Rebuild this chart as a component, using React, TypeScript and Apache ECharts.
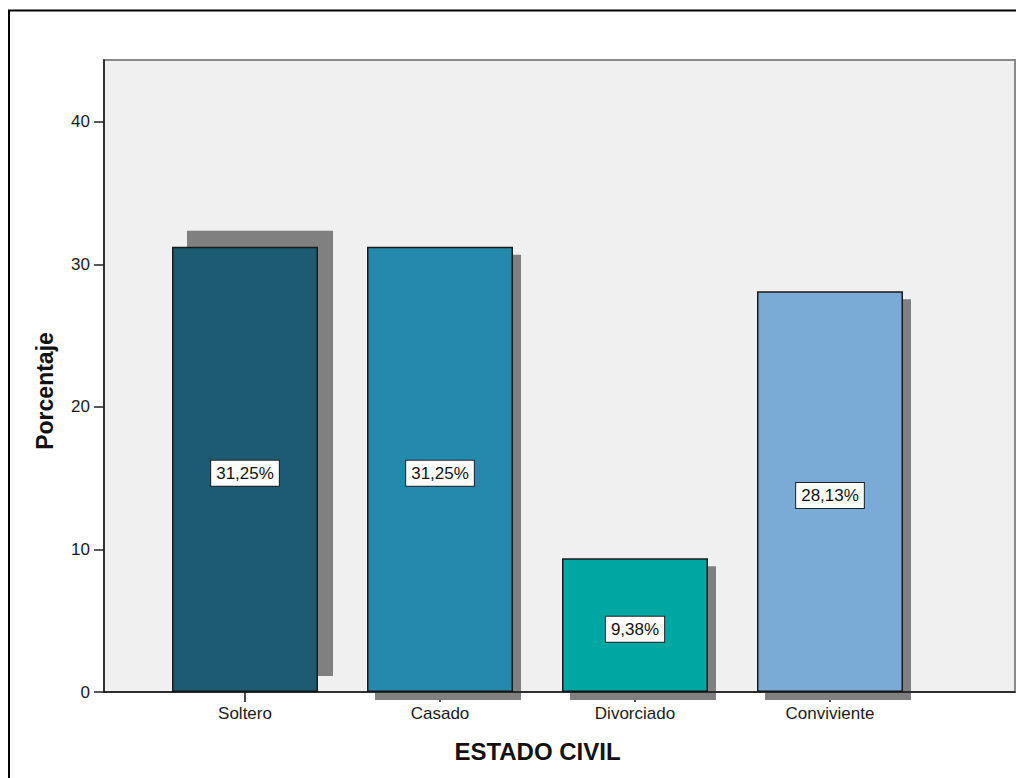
import React, { useEffect, useRef } from "react";
import * as echarts from "echarts";

// Estado civil: porcentaje por categoría
const categories = ["Soltero", "Casado", "Divorciado", "Conviviente"];
const percentages = [31.25, 31.25, 9.38, 28.13];
const yTicks = [0, 10, 20, 30, 40];

// Styling (kept apart from the data)
const barColors = ["#1d5b72", "#2489ad", "#00a6a2", "#7aaad6"];
const shadowOffsets = [
  [15, -16],
  [8, 8],
  [8, 8],
  [8, 8],
];
const BAR_WIDTH = 146;
const FONT = "'Liberation Sans', Arial, sans-serif";
const Y_MAX = 44.35;

const fmt = (v: number) => v.toFixed(2).replace(".", ",") + "%";

export default function App() {
  const ref = useRef<HTMLDivElement>(null);

  useEffect(() => {
    if (!ref.current) return;
    const chart = echarts.init(ref.current, null, { renderer: "svg" });

    chart.setOption({
      animation: false,
      backgroundColor: "#ffffff",
      textStyle: { fontFamily: FONT },
      graphic: [
        {
          type: "rect",
          shape: { x: 9, y: 10.5, width: 1100, height: 1000 },
          style: { fill: "none", stroke: "#000", lineWidth: 2 },
          z: 0,
          silent: true,
        },
        {
          // y axis title
          type: "text",
          x: 45,
          y: 391,
          rotation: Math.PI / 2,
          silent: true,
          style: {
            text: "Porcentaje",
            align: "center",
            verticalAlign: "middle",
            fontSize: 23,
            fontWeight: "bold",
            fontFamily: FONT,
            fill: "#111",
          },
        },
      ],
      grid: [
        {
          left: 104,
          top: 60,
          right: 1,
          bottom: 86,
          show: true,
          backgroundColor: "#f0f0f0",
          borderColor: "#8a8a8a",
          borderWidth: 2,
        },
        {
          left: 147.5,
          width: 780,
          top: 60,
          bottom: 86,
        },
      ],
      xAxis: [
        {
          gridIndex: 0,
          type: "value",
          min: 0,
          max: 1,
          axisLine: { show: true, lineStyle: { color: "#111", width: 1.5 } },
          axisTick: { show: false },
          axisLabel: { show: false },
          splitLine: { show: false },
          z: 5,
        },
        {
          gridIndex: 1,
          type: "category",
          data: categories,
          boundaryGap: true,
          axisLine: { show: false },
          axisTick: {
            show: true,
            alignWithLabel: true,
            length: 10,
            lineStyle: { color: "#111", width: 1.5 },
          },
          axisLabel: {
            margin: 13,
            fontSize: 17,
            color: "#1a1a1a",
            fontFamily: FONT,
          },
          name: "ESTADO CIVIL",
          nameLocation: "middle",
          nameGap: 47,
          nameTextStyle: {
            fontSize: 24,
            fontWeight: "bold",
            color: "#111",
            fontFamily: FONT,
          },
        },
      ],
      yAxis: [
        {
          gridIndex: 0,
          type: "value",
          min: 0,
          max: Y_MAX,
          axisLine: { show: true, lineStyle: { color: "#333", width: 2 } },
          axisTick: {
            show: true,
            length: 10,
            customValues: yTicks,
            lineStyle: { color: "#222", width: 1.5 },
          },
          axisLabel: {
            customValues: yTicks,
            margin: 14,
            fontSize: 17,
            color: "#1a1a1a",
            fontFamily: FONT,
          },
          splitLine: { show: false },
          z: 5,
        },
        {
          gridIndex: 1,
          type: "value",
          min: 0,
          max: Y_MAX,
          show: false,
        },
      ],
      series: [
        {
          // drop shadows behind each bar
          type: "custom",
          xAxisIndex: 1,
          yAxisIndex: 1,
          z: 1,
          silent: true,
          clip: false,
          data: percentages.map((v, i) => [i, v]),
          renderItem: (params: any, api: any) => {
            const i = params.dataIndex;
            const top = api.coord([api.value(0), api.value(1)]);
            const base = api.coord([api.value(0), 0]);
            const [dx, dy] = shadowOffsets[i];
            return {
              type: "rect",
              shape: {
                x: top[0] - BAR_WIDTH / 2 + dx,
                y: top[1] + dy,
                width: BAR_WIDTH,
                height: base[1] - top[1],
              },
              style: { fill: "#808080" },
            };
          },
        },
        {
          type: "bar",
          xAxisIndex: 1,
          yAxisIndex: 1,
          z: 3,
          barWidth: BAR_WIDTH,
          data: percentages.map((v, i) => ({
            value: v,
            itemStyle: {
              color: barColors[i],
              borderColor: "#1a1a1a",
              borderWidth: 1.5,
            },
          })),
          label: {
            show: true,
            position: "inside",
            offset: [0, 4],
            formatter: (p: any) => fmt(p.value),
            fontSize: 17,
            color: "#111",
            fontFamily: FONT,
            backgroundColor: "#ffffff",
            borderColor: "#222",
            borderWidth: 1,
            padding: [5, 5, 3, 5],
          },
        },
      ],
    });

    return () => chart.dispose();
  }, []);

  return (
    <div
      ref={ref}
      style={{ position: "absolute", left: 0, top: 0, width: 1016, height: 778 }}
    />
  );
}
